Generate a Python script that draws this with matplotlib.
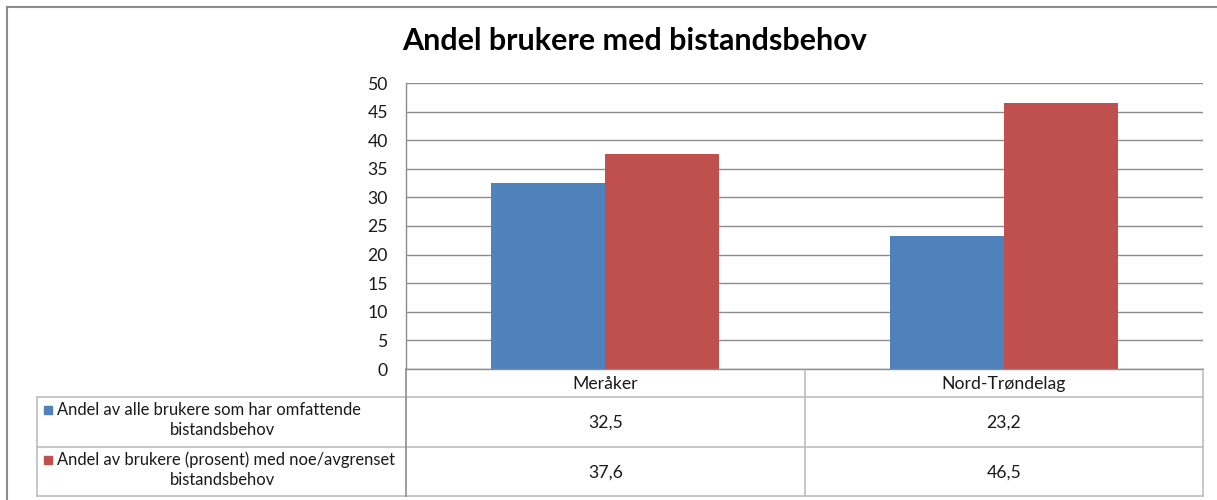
import matplotlib
matplotlib.use("Agg")
import matplotlib.pyplot as plt
from matplotlib.patches import Rectangle
from matplotlib.lines import Line2D

plt.rcParams['font.family'] = ['Lato', 'DejaVu Sans']

title = "Andel brukere med bistandsbehov"
categories = ["Meråker", "Nord-Trøndelag"]
series_labels = [
    "Andel av alle brukere som har omfattende\nbistandsbehov",
    "Andel av brukere (prosent) med noe/avgrenset\nbistandsbehov",
]
series_values = [
    [32.5, 23.2],
    [37.6, 46.5],
]
colors = ["#4F81BD", "#C0504D"]
yticks = [0, 5, 10, 15, 20, 25, 30, 35, 40, 45, 50]

W, H = 1217, 500
fig = plt.figure(figsize=(W / 100, H / 100), dpi=100)


def fx(x):
    return x / W


def fy(y):
    return 1 - y / H


# main plot area (pixel layout)
L, R, T, B = 406, 1203, 83, 369
ax = fig.add_axes([fx(L), fy(B), fx(R - L), (B - T) / H])

n = len(series_values)
bw = 1.0 / 3.5
x = list(range(len(categories)))
for s in range(n):
    xs = [xi + (s - (n - 1) / 2) * bw for xi in x]
    ax.bar(xs, series_values[s], width=bw, color=colors[s], zorder=3, linewidth=0)

fs = 12.7
fs_lab = 11.9
tc = "#1A1A1A"
ax.set_xlim(-0.5, len(categories) - 0.5)
ax.set_ylim(0, 50)
ax.set_yticks(yticks)
ax.set_yticklabels([str(v) for v in yticks], fontsize=fs, color=tc)
ax.set_xticks([])
ax.tick_params(axis='y', length=0, pad=13)
ax.grid(axis='y', color="#8C8C8C", linewidth=1.0, zorder=0)
for side in ["top", "right", "bottom"]:
    ax.spines[side].set_visible(False)
ax.spines["left"].set_color("#8C8C8C")
ax.spines["left"].set_linewidth(1.0)

# overlay in pixel coordinates for table & border
ov = fig.add_axes([0, 0, 1, 1], zorder=5)
ov.set_xlim(0, W)
ov.set_ylim(H, 0)
ov.axis("off")

lc = "#BDBDBD"
# outer chart border
ov.add_line(Line2D([7, 7], [7, H], color="#8C8C8C", lw=1.5))
ov.add_line(Line2D([7, W], [7, 7], color="#8C8C8C", lw=1.5))

TL = 37
rows = [369, 397, 447, 496]
ov.add_line(Line2D([L, R], [rows[0], rows[0]], color="#8C8C8C", lw=1.0))
for yy in rows[1:]:
    ov.add_line(Line2D([TL, R], [yy, yy], color=lc, lw=1.2))
ov.add_line(Line2D([TL, TL], [rows[1], rows[3]], color=lc, lw=1.2))


def px_of(xd):
    return ax.transData.transform((xd, 0))[0]


bounds = [px_of(-0.5 + i) for i in range(len(categories) + 1)]
for i, bx in enumerate(bounds):
    col = "#8C8C8C" if i == 0 else lc
    ov.add_line(Line2D([bx, bx], [rows[0], rows[3]], color=col, lw=1.2))

for i, cat in enumerate(categories):
    cx = px_of(i)
    ov.text(cx, (rows[0] + rows[1]) / 2 + 1, cat, ha="center", va="center", fontsize=fs, color=tc)
    for s in range(n):
        val = f"{series_values[s][i]:.1f}".replace(".", ",")
        ov.text(cx, (rows[s + 1] + rows[s + 2]) / 2 + 1, val, ha="center", va="center", fontsize=fs, color=tc)

for s in range(n):
    top = rows[s + 1]
    line1, line2 = series_labels[s].split("\n")
    ov.text(57, top + 13, line1, ha="left", va="center", fontsize=fs_lab, color=tc)
    ov.text((TL + L) / 2 + 1, top + 33, line2, ha="center", va="center", fontsize=fs_lab, color=tc)
    ov.add_patch(Rectangle((44, top + 9), 8, 8, color=colors[s]))

fig.text(fx(635), fy(41), title, ha="center", va="center", fontsize=22, fontweight="bold", color="#000000")

fig.savefig("out.png", dpi=100, facecolor="white")
